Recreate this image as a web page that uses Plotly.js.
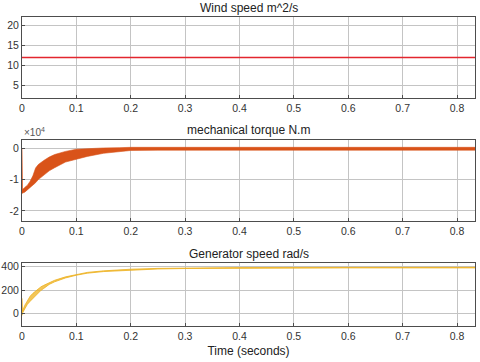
<!DOCTYPE html>
<html>
<head>
<meta charset="utf-8">
<script src="https://cdn.plot.ly/plotly-3.0.1.min.js"></script>
<style>
  html, body { margin: 0; padding: 0; background: #fff; }
  #chart { width: 480px; height: 362px; }
</style>
</head>
<body>
<div id="chart"></div>
<script>
// Wind speed (constant)
const windT = [0, 0.833];
const windV = [12, 12];

// Mechanical torque, N.m — envelope of the oscillating band
const torqueT     = [0, 0.001, 0.005, 0.01, 0.015, 0.02, 0.025, 0.03, 0.04, 0.05, 0.06, 0.07, 0.08, 0.1, 0.12, 0.15, 0.18, 0.2, 0.25, 0.3, 0.5, 0.833];
const torqueUpper = [0, -13200, -12500, -11800, -10500, -8800, -6300, -5200, -3900, -2800, -2000, -1500, -1000, -300, -100, 100, 200, 300, 300, 300, 300, 300];
const torqueLower = [-14500, -14300, -14000, -13300, -12600, -12000, -11000, -10000, -8500, -7200, -6200, -5200, -4400, -3500, -2600, -1600, -1000, -700, -600, -600, -600, -600];

// Generator speed, rad/s — envelope
const speedT     = [0, 0.001, 0.005, 0.01, 0.015, 0.02, 0.025, 0.03, 0.035, 0.04, 0.05, 0.06, 0.08, 0.1, 0.12, 0.15, 0.2, 0.25, 0.3, 0.4, 0.5, 0.6, 0.7, 0.833];
const speedUpper = [130, 20, 70, 110, 148, 172, 192, 212, 228, 240, 262, 283, 312, 334, 350, 363, 377, 384, 388, 391, 392, 393, 393, 393];
const speedLower = [-15, 5, 40, 80, 105, 130, 155, 178, 198, 214, 248, 270, 303, 326, 343, 357, 371, 379, 383, 386, 387, 388, 388, 388];

const xTicks = [0, 0.1, 0.2, 0.3, 0.4, 0.5, 0.6, 0.7, 0.8];
const xTickText = ['0', '0.1', '0.2', '0.3', '0.4', '0.5', '0.6', '0.7', '0.8'];

const FONT = 'Liberation Sans, Arial, sans-serif';
const GRID = '#c4c4c4';
const FRAME = '#4d4d4d';

function xAxis(anchor) {
  return {
    anchor, range: [0, 0.833], tickvals: xTicks, ticktext: xTickText,
    showgrid: true, gridcolor: GRID, gridwidth: 1, zeroline: false,
    showline: true, linecolor: FRAME, linewidth: 1, mirror: true,
    ticks: 'inside', ticklen: 3, tickcolor: FRAME,
    tickfont: { family: FONT, size: 10.5, color: '#333' }
  };
}
function yAxis(anchor, domain, range, tickvals, ticktext) {
  return {
    anchor, domain, range, tickvals, ticktext,
    showgrid: true, gridcolor: GRID, gridwidth: 1, zeroline: false,
    showline: true, linecolor: FRAME, linewidth: 1, mirror: true,
    ticks: 'inside', ticklen: 3, tickcolor: FRAME,
    tickfont: { family: FONT, size: 10.5, color: '#333' }
  };
}

const ORANGE = '#D95319';
const YELLOW = '#EDB120';

const traces = [
  { x: windT, y: windV, xaxis: 'x', yaxis: 'y', mode: 'lines', line: { color: '#e3262e', width: 1.5 }, hoverinfo: 'skip' },

  { x: torqueT, y: torqueLower, xaxis: 'x2', yaxis: 'y2', mode: 'lines', line: { color: ORANGE, width: 0.6 }, hoverinfo: 'skip' },
  { x: torqueT, y: torqueUpper, xaxis: 'x2', yaxis: 'y2', mode: 'lines', line: { color: ORANGE, width: 0.6 }, fill: 'tonexty', fillcolor: ORANGE, hoverinfo: 'skip' },

  { x: speedT, y: speedLower, xaxis: 'x3', yaxis: 'y3', mode: 'lines', line: { color: YELLOW, width: 0.8 }, hoverinfo: 'skip' },
  { x: speedT, y: speedUpper, xaxis: 'x3', yaxis: 'y3', mode: 'lines', line: { color: YELLOW, width: 0.8 }, fill: 'tonexty', fillcolor: 'rgba(237,177,32,0.75)', hoverinfo: 'skip' }
];

const titleFont = { family: FONT, size: 12, color: '#222' };

const layout = {
  width: 480, height: 362,
  margin: { l: 22, r: 5, t: 17, b: 36 },
  paper_bgcolor: '#fff', plot_bgcolor: '#fff',
  showlegend: false,
  xaxis: xAxis('y'),
  xaxis2: xAxis('y2'),
  xaxis3: Object.assign(xAxis('y3'), { title: { text: 'Time (seconds)', font: titleFont, standoff: 6 } }),
  yaxis: yAxis('x', [0.738, 1], [2, 22], [5, 10, 15, 20], ['5', '10', '15', '20']),
  yaxis2: yAxis('x2', [0.340, 0.602], [-23200, 2650], [-20000, -10000, 0], ['-2', '-1', '0']),
  yaxis3: yAxis('x3', [0, 0.204], [-105, 430], [0, 200, 400], ['0', '200', '400']),
  annotations: [
    { text: 'Wind speed m^2/s', xref: 'paper', yref: 'paper', x: 0.5, y: 1, yshift: 9, xanchor: 'center', yanchor: 'middle', showarrow: false, font: titleFont },
    { text: 'mechanical torque N.m', xref: 'paper', yref: 'paper', x: 0.5, y: 0.602, yshift: 10, xanchor: 'center', yanchor: 'middle', showarrow: false, font: titleFont },
    { text: 'Generator speed rad/s', xref: 'paper', yref: 'paper', x: 0.5, y: 0.204, yshift: 9, xanchor: 'center', yanchor: 'middle', showarrow: false, font: titleFont },
    { text: '×10<sup>4</sup>', xref: 'paper', yref: 'paper', x: 0, y: 0.602, xanchor: 'left', yanchor: 'bottom', showarrow: false, font: { family: FONT, size: 10, color: '#555' } }
  ]
};

Plotly.newPlot('chart', traces, layout, { displayModeBar: false, staticPlot: true });
</script>
</body>
</html>
